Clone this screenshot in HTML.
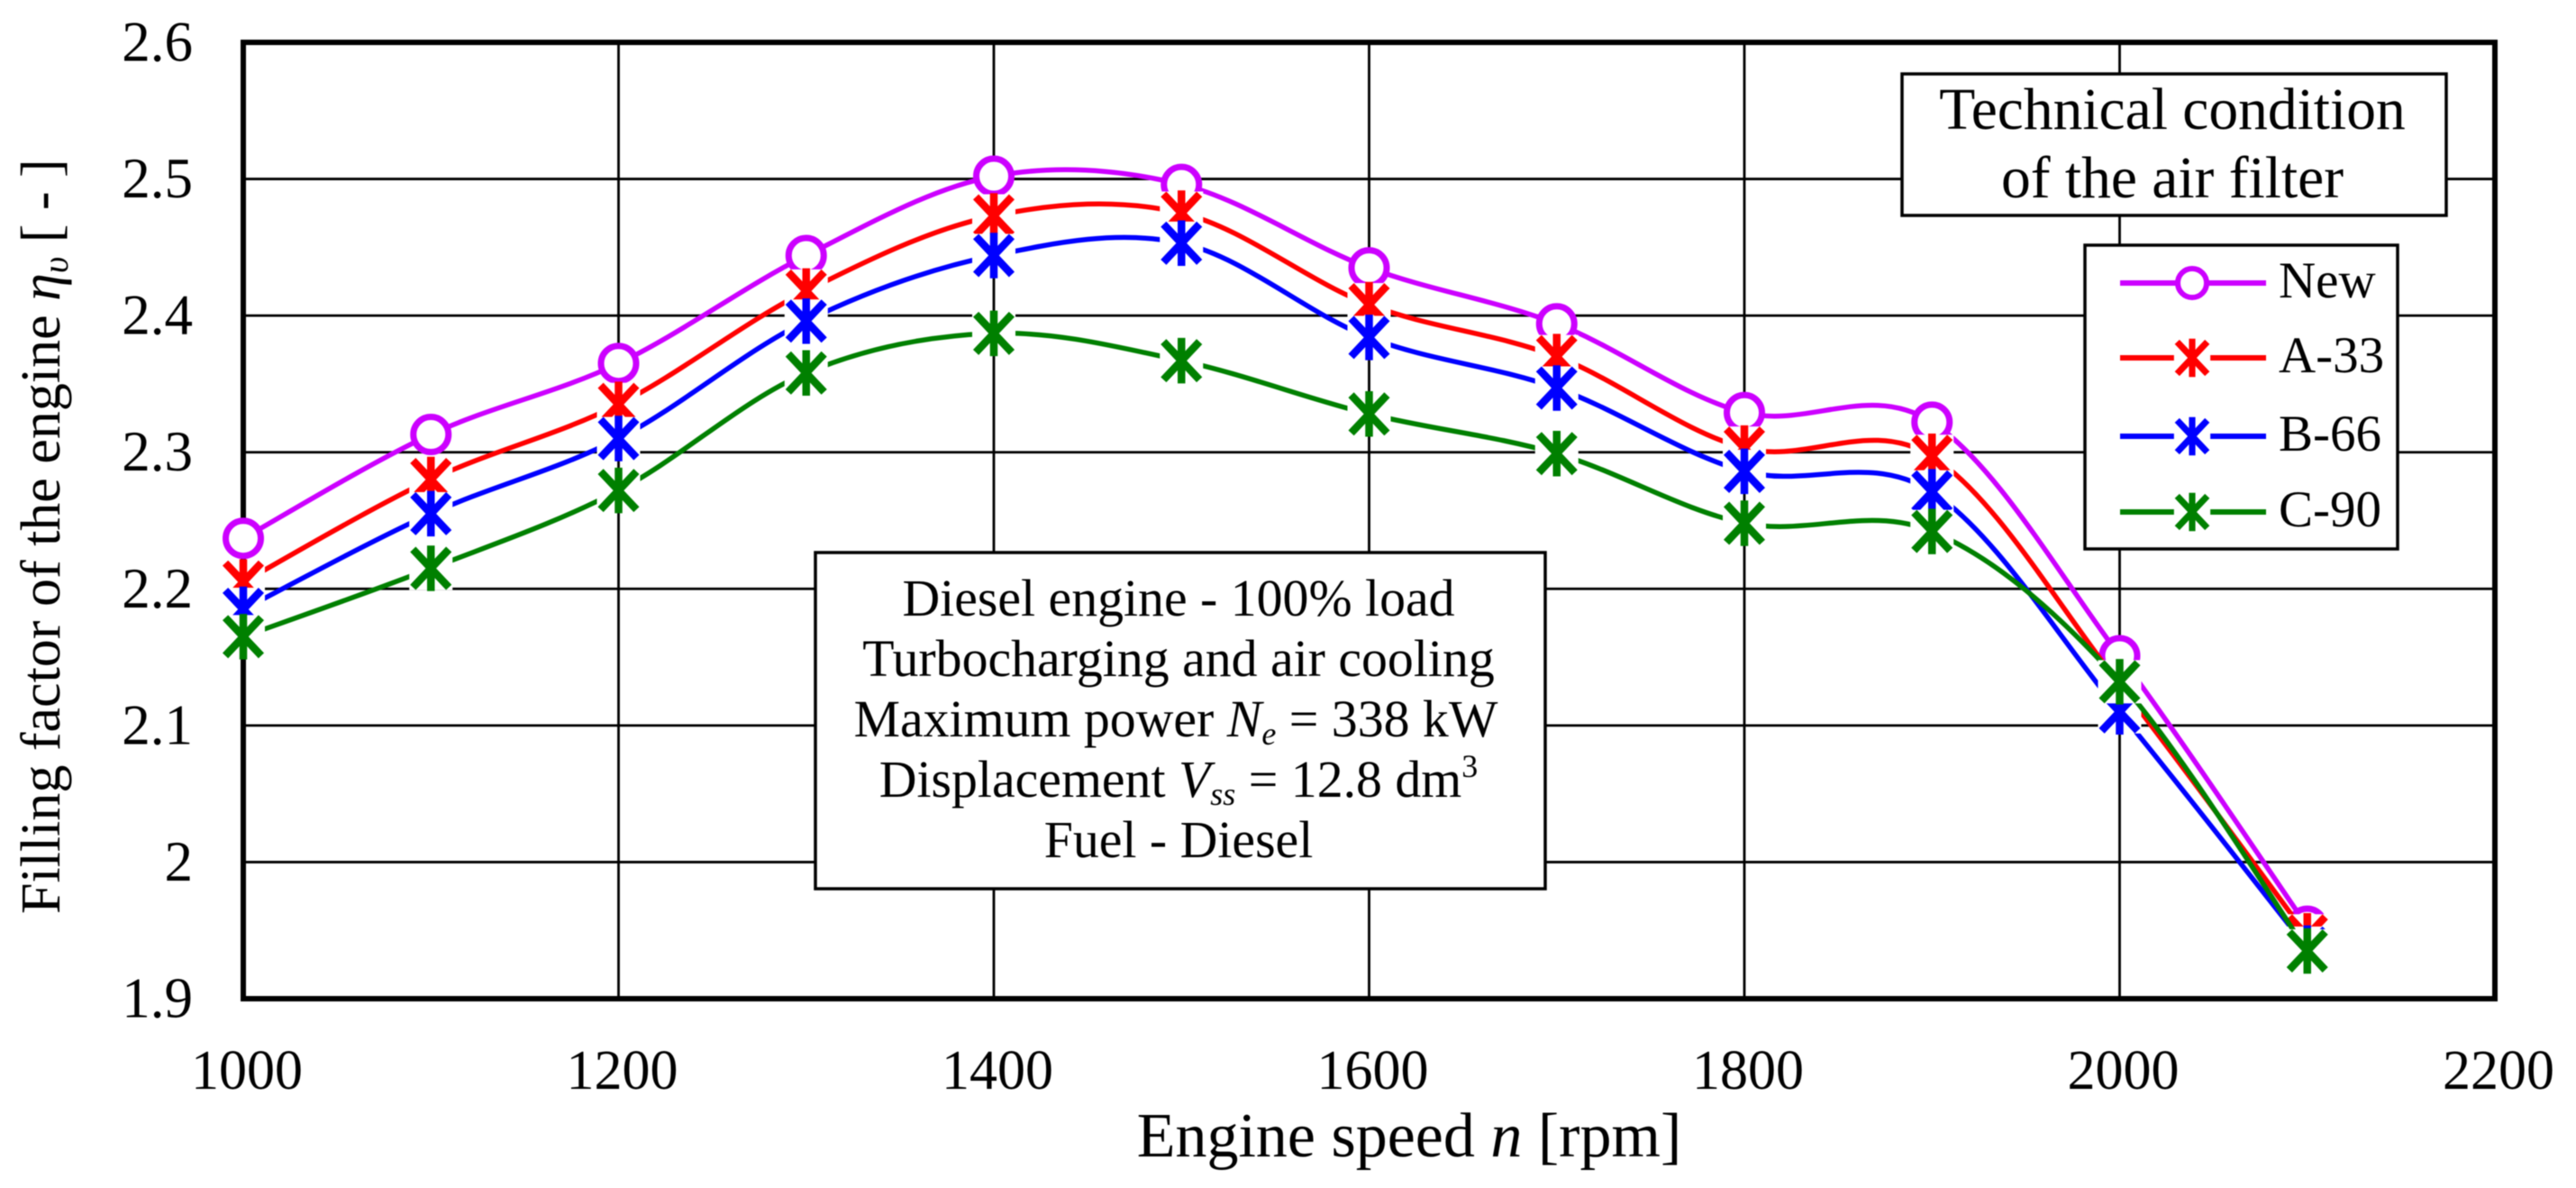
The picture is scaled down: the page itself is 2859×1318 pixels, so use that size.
<!DOCTYPE html>
<html lang="en">
<head>
<meta charset="utf-8">
<title>Filling factor of the engine vs engine speed</title>
<style>
  html, body { margin: 0; padding: 0; background: #fff; }
  #chart { display: block; width: 2859px; height: 1318px; filter: blur(0.6px); }
  text { font-family: "Liberation Serif", "DejaVu Serif", serif; fill: #000; }
</style>
</head>
<body>
<svg id="chart" xmlns="http://www.w3.org/2000/svg" width="2859" height="1318" viewBox="0 0 2859 1318">
  <rect x="0" y="0" width="2859" height="1318" fill="#fff"/>
  <g id="grid"></g>
  <rect x="270" y="47" width="2499" height="1061" fill="none" stroke="#000" stroke-width="6"/>
  <g id="xlabels"></g>
  <g id="ylabels"></g>

  <text x="1564" y="1283" font-size="70" text-anchor="middle">Engine speed <tspan font-style="italic">n</tspan> [rpm]</text>
  <text transform="translate(66 1014) rotate(-90)" font-size="62">Filling factor of the engine <tspan font-style="italic">η</tspan><tspan font-style="italic" font-size="40" dy="9">υ</tspan><tspan dy="-9"> [ - ]</tspan></text>

  <g>
    <rect x="905" y="613" width="810" height="373" fill="#fff" stroke="#000" stroke-width="3.5"/>
    <g font-size="57.8" text-anchor="middle">
      <text x="1308" y="683">Diesel engine - 100% load</text>
      <text x="1308" y="750">Turbocharging and air cooling</text>
      <text x="1305" y="817">Maximum power <tspan font-style="italic">N</tspan><tspan font-style="italic" font-size="36" dy="9">e</tspan><tspan dy="-9"> = 338 kW</tspan></text>
      <text x="1308" y="884">Displacement <tspan font-style="italic">V</tspan><tspan font-style="italic" font-size="36" dy="9">ss</tspan><tspan dy="-9"> = 12.8 dm</tspan><tspan font-size="36" dy="-22">3</tspan></text>
      <text x="1308" y="951">Fuel - Diesel</text>
    </g>
  </g>

  <g>
    <rect x="2111" y="82" width="604" height="157" fill="#fff" stroke="#000" stroke-width="3.5"/>
    <g font-size="65.5" text-anchor="middle">
      <text x="2411" y="143">Technical condition</text>
      <text x="2411" y="219">of the air filter</text>
    </g>
  </g>

  <rect x="2314" y="272" width="347" height="337" fill="#fff" stroke="#000" stroke-width="3.5"/>
  <g id="legend"></g>
  <g id="series"></g>
</svg>

<script>
const rpm = [1000, 1100, 1200, 1300, 1400, 1500, 1600, 1700, 1800, 1900, 2000, 2100];
const seriesNew = [2.237, 2.313, 2.365, 2.444, 2.502, 2.496, 2.435, 2.394, 2.329, 2.322, 2.151, 1.953];
const seriesA33 = [2.205, 2.280, 2.335, 2.418, 2.473, 2.475, 2.408, 2.370, 2.303, 2.297, 2.130, 1.946];
const seriesB66 = [2.185, 2.255, 2.310, 2.396, 2.444, 2.453, 2.384, 2.347, 2.286, 2.271, 2.110, 1.937];
const seriesC90 = [2.165, 2.215, 2.272, 2.358, 2.387, 2.367, 2.328, 2.299, 2.248, 2.242, 2.132, 1.935];
const seriesNames = ['New', 'A-33', 'B-66', 'C-90'];
const seriesColors = ['#cc00ff', '#ff0000', '#0000ff', '#008000'];
const xTicks = [1000, 1200, 1400, 1600, 1800, 2000, 2200];
const yTicks = [1.9, 2.0, 2.1, 2.2, 2.3, 2.4, 2.5, 2.6];
const yTickLabels = ['1.9', '2', '2.1', '2.2', '2.3', '2.4', '2.5', '2.6'];

const NS = 'http://www.w3.org/2000/svg';
const xMin = 1000, xMax = 2200, yMin = 1.9, yMax = 2.6;
const plotLeft = 270, plotRight = 2769, plotTop = 47, plotBottom = 1108;

function xScale(v) { return plotLeft + (v - xMin) / (xMax - xMin) * (plotRight - plotLeft); }
function yScale(v) { return plotBottom - (v - yMin) / (yMax - yMin) * (plotBottom - plotTop); }

function make(tag, attrs, parent) {
  const el = document.createElementNS(NS, tag);
  for (const k in attrs) el.setAttribute(k, attrs[k]);
  parent.appendChild(el);
  return el;
}

function smoothPath(pts) {
  let d = 'M' + pts[0][0] + ' ' + pts[0][1];
  for (let i = 0; i < pts.length - 1; i++) {
    const p0 = pts[Math.max(i - 1, 0)];
    const p1 = pts[i];
    const p2 = pts[i + 1];
    const p3 = pts[Math.min(i + 2, pts.length - 1)];
    const c1x = p1[0] + (p2[0] - p0[0]) / 6;
    const c1y = p1[1] + (p2[1] - p0[1]) / 6;
    const c2x = p2[0] - (p3[0] - p1[0]) / 6;
    const c2y = p2[1] - (p3[1] - p1[1]) / 6;
    d += ' C' + c1x + ' ' + c1y + ' ' + c2x + ' ' + c2y + ' ' + p2[0] + ' ' + p2[1];
  }
  return d;
}

function drawCircleMarker(parent, cx, cy, r, color, sw) {
  const c = make('circle', { cx: cx, cy: cy, r: r, fill: '#fff', stroke: color, 'stroke-width': sw }, parent);
  
  
}

function drawStarMarker(parent, cx, cy, s, color) {
  const halo = make('rect', { x: cx - 24 * s, y: cy - 24 * s, width: 48 * s, height: 48 * s, fill: '#fff' }, parent);
  
  
  const d = 'M' + (cx - 17 * s) + ' ' + (cy - 18 * s) + ' L' + (cx + 17 * s) + ' ' + (cy + 18 * s) +
            ' M' + (cx + 17 * s) + ' ' + (cy - 18 * s) + ' L' + (cx - 17 * s) + ' ' + (cy + 18 * s) +
            ' M' + cx + ' ' + (cy - 21 * s) + ' L' + cx + ' ' + (cy + 21 * s);
  const star = make('path', { d: d, fill: 'none', stroke: color, 'stroke-width': 8.5 * s, 'stroke-linecap': 'square' }, parent);
  
  
}

/* grid */
const grid = document.getElementById('grid');
xTicks.slice(1, -1).forEach(function (t) {
  const l = make('line', { x1: xScale(t), x2: xScale(t), y1: plotTop, y2: plotBottom, stroke: '#000', 'stroke-width': 2.8 }, grid);
  
  
});
yTicks.slice(1, -1).forEach(function (t) {
  const l = make('line', { x1: plotLeft, x2: plotRight, y1: yScale(t), y2: yScale(t), stroke: '#000', 'stroke-width': 2.8 }, grid);
  
  
});

/* tick labels */
const xlabels = document.getElementById('xlabels');
xTicks.forEach(function (t) {
  const el = make('text', { x: xScale(t) + 4, y: 1208, 'font-size': 62, 'text-anchor': 'middle' }, xlabels);
  
  
  el.textContent = String(t);
});
const ylabels = document.getElementById('ylabels');
yTicks.forEach(function (t, i) {
  const el = make('text', { x: 214, y: yScale(t) + 20.5, 'font-size': 63, 'text-anchor': 'end' }, ylabels);
  
  
  el.textContent = yTickLabels[i];
});

/* series */
const seriesRoot = document.getElementById('series');
[seriesNew, seriesA33, seriesB66, seriesC90].forEach(function (values, si) {
  const g = make('g', {}, seriesRoot);
  
  
  const pts = values.map(function (v, i) { return [xScale(rpm[i]), yScale(v)]; });
  const line = make('path', { d: smoothPath(pts), fill: 'none', stroke: seriesColors[si], 'stroke-width': 5.5 }, g);
  
  
  pts.forEach(function (p) {
    if (si === 0) drawCircleMarker(g, p[0], p[1], 19.5, seriesColors[si], 7);
    else drawStarMarker(g, p[0], p[1], 1, seriesColors[si]);
  });
});

/* legend */
const legendRoot = document.getElementById('legend');
const legendRowY = [314, 397, 484, 568];
seriesNames.forEach(function (name, i) {
  const g = make('g', {}, legendRoot);
  
  
  const y = legendRowY[i];
  const l = make('line', { x1: 2353, x2: 2515, y1: y, y2: y, stroke: seriesColors[i], 'stroke-width': 6 }, g);
  
  
  if (i === 0) drawCircleMarker(g, 2433, y, 16, seriesColors[i], 6);
  else drawStarMarker(g, 2433, y, 0.84, seriesColors[i]);
  const t = make('text', { x: 2529, y: y + 16, 'font-size': 57 }, g);
  
  
  t.textContent = name;
});
</script>
</body>
</html>
